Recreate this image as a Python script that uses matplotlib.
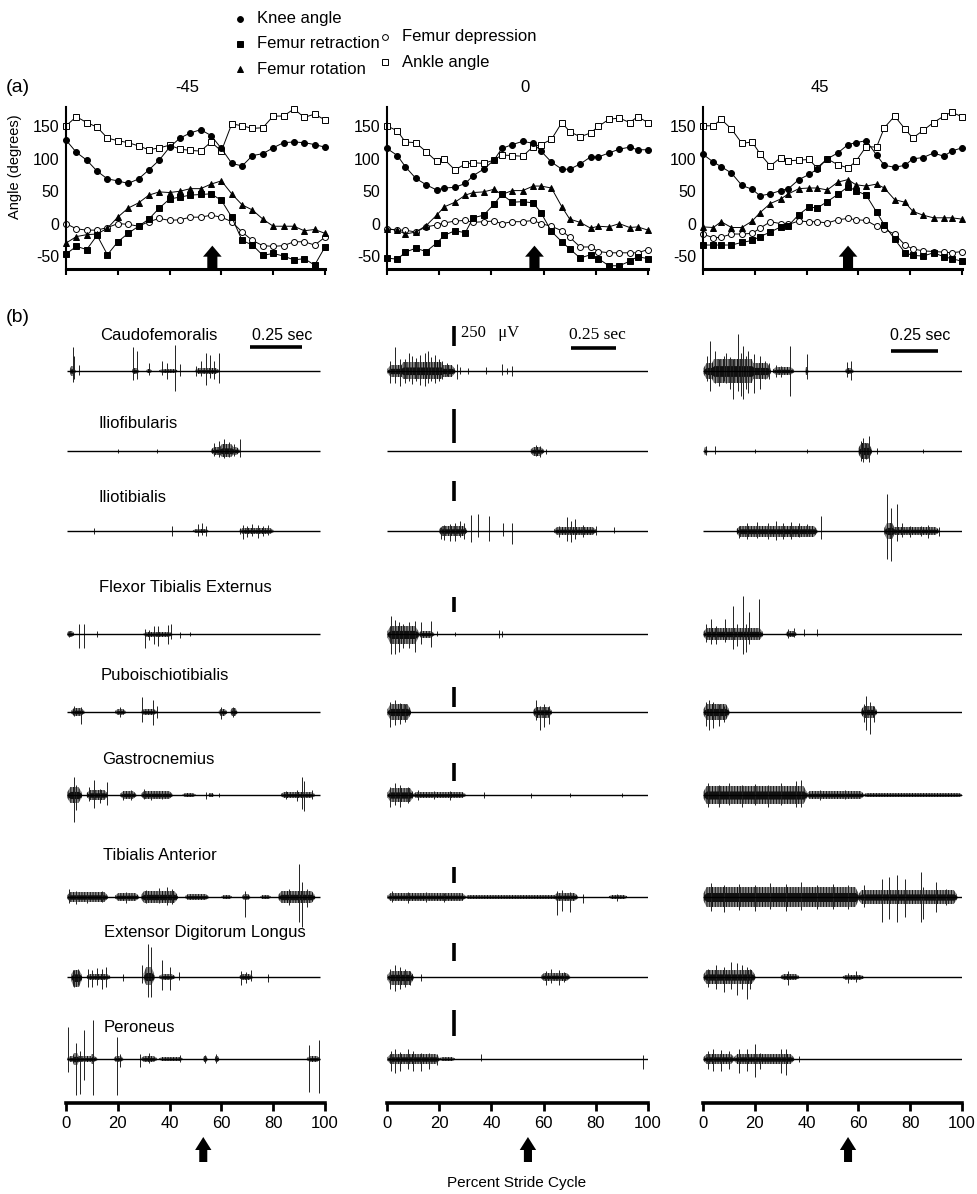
import matplotlib
matplotlib.use('Agg')
import matplotlib.pyplot as plt
from matplotlib.patches import FancyArrow

plt.rcParams['font.family'] = ['Liberation Sans', 'DejaVu Sans']
plt.rcParams['hatch.linewidth'] = 0.7

# ---------------- DATA: (a) joint angles ----------------
conditions = ['-45', '0', '45']
series_names = ['Knee angle', 'Femur retraction', 'Femur rotation', 'Femur depression', 'Ankle angle']

pct_m45 = [0, 4, 8, 12, 16, 20, 24, 28, 32, 36, 40, 44, 48, 52, 56, 60, 64, 68, 72, 76, 80, 84, 88, 92, 96, 100]
knee_m45 = [129, 110, 98, 81, 69, 66, 62, 69, 83, 98, 118, 132, 140, 145, 136, 116, 93, 89, 105, 108, 117, 125, 126, 125, 122, 118]
retr_m45 = [-47, -35, -40, -18, -48, -28, -15, -4, 7, 24, 38, 41, 44, 45, 46, 36, 10, -26, -33, -49, -46, -50, -56, -54, -64, -36]
rot_m45 = [-30, -20, -17, -16, -7, 10, 24, 32, 44, 49, 48, 50, 54, 54, 61, 66, 46, 29, 21, 7, -4, -4, -4, -11, -9, -15]
depr_m45 = [0, -8, -10, -10, -6, 0, -1, -4, 3, 8, 5, 6, 10, 10, 13, 10, 3, -13, -26, -34, -35, -34, -28, -28, -33, -21]
ankle_m45 = [151, 165, 156, 149, 132, 128, 125, 120, 114, 117, 121, 115, 113, 112, 126, 112, 154, 151, 147, 148, 166, 166, 177, 164, 169, 160]

pct_0 = [0, 4, 7, 11, 15, 19, 22, 26, 30, 33, 37, 41, 44, 48, 52, 56, 59, 63, 67, 70, 74, 78, 81, 85, 89, 93, 96, 100]
knee_0 = [116, 105, 88, 70, 60, 52, 55, 56, 62, 74, 84, 98, 116, 122, 127, 124, 112, 95, 84, 84, 92, 103, 103, 109, 115, 118, 114, 114]
retr_0 = [-53, -55, -44, -38, -43, -30, -18, -11, -14, 9, 13, 30, 45, 33, 34, 32, 17, -12, -28, -39, -53, -48, -54, -65, -65, -58, -51, -54]
rot_0 = [-8, -10, -16, -13, -3, 13, 26, 33, 44, 48, 49, 53, 45, 51, 51, 58, 58, 55, 26, 7, 2, -7, -4, -5, 0, -6, -5, -10]
depr_0 = [-8, -10, -10, -13, -5, -2, 1, 4, 5, 2, 3, 4, 0, 3, 3, 5, 0, -4, -11, -21, -36, -36, -43, -45, -45, -45, -45, -40]
ankle_0 = [151, 143, 126, 125, 111, 96, 99, 83, 92, 94, 93, 98, 106, 105, 104, 119, 122, 130, 156, 142, 134, 140, 150, 161, 163, 156, 165, 156]

pct_45 = [0, 4, 7, 11, 15, 19, 22, 26, 30, 33, 37, 41, 44, 48, 52, 56, 59, 63, 67, 70, 74, 78, 81, 85, 89, 93, 96, 100]
knee_45 = [107, 95, 88, 78, 59, 53, 43, 46, 51, 54, 68, 76, 84, 100, 109, 122, 125, 128, 106, 90, 87, 90, 100, 102, 109, 104, 112, 117]
retr_45 = [-33, -33, -33, -33, -29, -26, -20, -13, -5, -3, 14, 26, 24, 34, 45, 57, 51, 44, 18, -2, -24, -45, -49, -50, -45, -51, -54, -58]
rot_45 = [-5, -6, 3, -6, -6, 4, 17, 31, 38, 46, 54, 55, 55, 52, 64, 68, 60, 58, 61, 55, 37, 33, 19, 13, 9, 9, 9, 7]
depr_45 = [-16, -22, -21, -16, -16, -15, -7, 3, 0, -1, 4, 3, 3, 1, 6, 8, 6, 5, -4, -9, -16, -33, -39, -42, -43, -44, -45, -43]
ankle_45 = [151, 151, 161, 146, 124, 126, 108, 89, 102, 97, 98, 99, 86, 100, 91, 86, 96, 119, 118, 148, 166, 146, 132, 144, 156, 166, 172, 165]

# stance/swing transition (arrow) in percent stride
arrow_top = [56.5, 56.5, 56]
arrow_bottom = [53, 54, 56]

# ---------------- DATA: (b) EMG ----------------
muscles = ['Caudofemoralis', 'Iliofibularis', 'Iliotibialis', 'Flexor Tibialis Externus',
           'Puboischiotibialis', 'Gastrocnemius', 'Tibialis Anterior',
           'Extensor Digitorum Longus', 'Peroneus']

# bursts: (start %, end %, amplitude up, amplitude down); spikes: (%, up, down)  [display units]
bursts_m45 = {
    'Caudofemoralis': [(1.5, 3.5, 5, 5), (25.5, 28, 3, 3), (31, 33, 2, 2), (36, 43, 2, 2), (50, 59, 3, 3)],
    'Iliofibularis': [(56, 67, 4, 4), (59, 65, 7, 6)],
    'Iliotibialis': [(49, 55, 2, 2), (67, 80, 3, 3)],
    'Flexor Tibialis Externus': [(0.5, 3, 3, 3), (30, 41, 2, 3)],
    'Puboischiotibialis': [(2, 7, 4, 4), (19, 23, 3, 3), (29, 35, 3, 3), (59, 62, 3, 4), (63.5, 66, 4, 4)],
    'Gastrocnemius': [(0.5, 6, 8, 8), (8, 16, 5, 5), (21, 27, 4, 4), (29, 41, 4, 4), (45, 50, 2, 2), (55, 57, 2, 2), (83, 96, 3, 3)],
    'Tibialis Anterior': [(0.5, 16, 5, 5), (19, 28, 4, 4), (29, 43, 6, 6), (46, 55, 3, 3), (60, 64, 2, 2), (68, 71, 3, 3), (75, 79, 2, 2), (82, 96, 6, 6)],
    'Extensor Digitorum Longus': [(2, 6, 7, 10), (8, 17, 3, 3), (30, 34, 10, 8), (36, 42, 3, 3), (67, 72, 3, 3)],
    'Peroneus': [(0.5, 12, 3, 3), (2.5, 5, 6, 6), (9.5, 11, 5, 5), (18.5, 22, 3, 3), (29, 35, 3, 3), (36, 45, 2, 2), (53, 54.5, 3, 3), (57.5, 59, 3, 3), (93, 98, 3, 3)],
}
spikes_m45 = {
    'Caudofemoralis': [(2.6, 24, 11), (3.2, 15, 8), (5, 6, 4), (26, 24, 9), (27.5, 20, 8), (32, 8, 4), (37, 10, 4), (39, 8, 8), (42, 26, 20), (44, 7, 5), (50, 5, 5), (52, 10, 5), (54, 18, 14), (55.5, 16, 7), (57, 10, 8), (59, 18, 12)],
    'Iliofibularis': [(57, 8, 5), (59, 10, 6), (61, 12, 7), (63, 9, 6), (65, 7, 5), (67, 12, 6), (20, 2, 2), (35, 2, 2)],
    'Iliotibialis': [(11, 3, 3), (41, 5, 5), (51, 7, 5), (52.5, 8, 4), (54, 5, 5), (67, 3, 3), (68.5, 6, 8), (70, 5, 6), (72, 7, 5), (74, 6, 7), (76, 5, 5), (78, 6, 4)],
    'Flexor Tibialis Externus': [(1, 3, 3), (5, 10, 14), (7, 10, 14), (12, 3, 3), (30.5, 5, 14), (32, 4, 6), (34, 8, 10), (35.5, 8, 12), (39.5, 9, 10), (40.5, 10, 5), (44, 2, 4), (48, 2, 2)],
    'Puboischiotibialis': [(3, 6, 4), (5.8, 5, 12), (21, 5, 5), (29.5, 15, 10), (33.5, 12, 13), (35, 6, 6), (60, 5, 7), (64.5, 5, 5)],
    'Gastrocnemius': [(3, 18, 27), (4, 10, 15), (9, 8, 6), (11, 15, 13), (13, 6, 8), (16, 13, 10), (22, 4, 5), (25, 5, 5), (30, 6, 4), (33, 4, 5), (37, 3, 4), (54, 3, 4), (59, 2, 2), (85, 4, 4), (89, 5, 6), (91, 18, 14), (92, 14, 16), (95, 5, 4)],
    'Tibialis Anterior': [(1, 8, 6), (4, 6, 7), (8, 5, 6), (14, 6, 5), (23, 5, 6), (31, 7, 6), (36, 9, 6), (39, 10, 8), (41, 8, 7), (69, 6, 20), (86, 8, 8), (90, 33, 25), (91, 15, 30), (93, 8, 10)],
    'Extensor Digitorum Longus': [(3, 7, 10), (4.5, 8, 8), (8.5, 8, 10), (10, 7, 10), (12, 9, 8), (14, 8, 12), (15.5, 10, 10), (22, 3, 4), (29.5, 12, 6), (31.5, 33, 20), (33, 30, 20), (37, 17, 13), (40, 10, 13), (43.5, 5, 3), (67.5, 6, 8), (69.5, 5, 6), (71.5, 7, 4), (78, 3, 5)],
    'Peroneus': [(0.9, 32, 13), (4, 16, 36), (5.5, 8, 35), (7, 29, 21), (10.4, 39, 36), (19.6, 22, 36), (21, 5, 8), (28.5, 5, 8), (32, 6, 4), (44, 4, 3), (53.5, 4, 4), (58, 5, 4), (94, 14, 33), (97.8, 19, 34)],
}

bursts_0 = {
    'Caudofemoralis': [(0.2, 26, 6, 6), (5, 22, 9, 8)],
    'Iliofibularis': [(55, 60, 4, 5)],
    'Iliotibialis': [(20, 30.5, 5, 5), (64, 80, 4, 4)],
    'Flexor Tibialis Externus': [(0.2, 12, 8, 10), (12, 18, 3, 4)],
    'Puboischiotibialis': [(0.2, 9, 8, 8), (56, 63, 5, 6)],
    'Gastrocnemius': [(0.2, 10, 7, 7), (10, 30, 3, 3)],
    'Tibialis Anterior': [(0.2, 30, 4, 4), (30, 66, 2, 2), (64, 73, 4, 4), (85, 92, 2, 2)],
    'Extensor Digitorum Longus': [(0.2, 10, 6, 8), (59, 70, 4, 4)],
    'Peroneus': [(0.2, 20, 5, 5), (20, 26, 2, 2)],
}
spikes_0 = {
    'Caudofemoralis': [(1, 10, 12), (3, 24, 12), (5, 12, 15), (7, 12, 12), (8.5, 18, 10), (9.5, 15, 13), (11, 13, 10), (12.5, 16, 14), (14.5, 18, 15), (15.8, 20, 12), (17, 14, 10), (18.4, 16, 12), (20, 12, 10), (21, 10, 8), (23, 8, 5), (26.7, 7, 8), (28, 4, 3), (31, 3, 3), (38, 4, 3), (44, 7, 4), (46, 3, 3), (48, 5, 5)],
    'Iliofibularis': [(57, 6, 5), (58.5, 5, 6), (61, 2, 3)],
    'Iliotibialis': [(20.5, 4, 8), (22, 6, 9), (24, 7, 10), (26, 8, 10), (28, 10, 6), (29.5, 8, 8), (32, 16, 11), (35, 17, 6), (39, 15, 10), (44.6, 8, 5), (48, 8, 13), (66, 5, 6), (69, 14, 10), (70.5, 10, 11), (72, 12, 8), (75, 6, 6), (80, 5, 4), (87, 4, 2)],
    'Flexor Tibialis Externus': [(1.5, 18, 20), (3, 14, 20), (4.5, 12, 18), (6, 10, 14), (8.5, 12, 14), (10.7, 13, 18), (13, 12, 10), (17, 13, 13), (19, 3, 2), (26, 2, 2), (43, 4, 4), (44, 3, 3)],
    'Puboischiotibialis': [(1, 10, 15), (3, 12, 13), (5, 9, 12), (7, 8, 10), (57, 12, 8), (58.5, 6, 18), (60, 8, 15), (62, 6, 12)],
    'Gastrocnemius': [(1, 8, 12), (3, 12, 10), (5, 10, 12), (8, 8, 8), (12, 5, 5), (18, 4, 4), (24, 4, 5), (37, 3, 3), (55, 2, 3), (70, 2, 2), (90, 2, 2)],
    'Tibialis Anterior': [(2, 6, 5), (8, 5, 6), (15, 5, 5), (22, 4, 5), (65, 6, 18), (67, 7, 14), (70, 5, 15), (75, 3, 6), (88, 3, 4)],
    'Extensor Digitorum Longus': [(1, 8, 12), (3, 12, 14), (5, 10, 12), (7, 8, 10), (9, 6, 8), (13, 3, 4), (61, 6, 8), (63, 8, 6), (66, 7, 8), (68, 5, 5)],
    'Peroneus': [(1.5, 8, 12), (3, 10, 14), (5, 7, 12), (8, 10, 10), (10, 8, 12), (13, 6, 12), (16, 6, 10), (19, 5, 6), (36, 5, 2), (98, 4, 10)],
}

bursts_45 = {
    'Caudofemoralis': [(0.2, 26, 8, 8), (3, 20, 12, 12), (27, 35, 4, 4), (39.5, 40.5, 4, 4), (55, 58, 3, 3)],
    'Iliofibularis': [(0.5, 1.5, 4, 4), (60, 65, 8, 8)],
    'Iliotibialis': [(13, 44, 5, 6), (70, 91, 4, 4), (70, 74, 8, 8)],
    'Flexor Tibialis Externus': [(0.2, 23, 6, 6), (32, 36, 3, 3)],
    'Puboischiotibialis': [(0.2, 10, 8, 8), (61, 67, 6, 6)],
    'Gastrocnemius': [(0.2, 40, 9, 9), (40, 62, 4, 4), (62, 100, 2, 2)],
    'Tibialis Anterior': [(0.2, 60, 10, 10), (60, 98, 7, 7)],
    'Extensor Digitorum Longus': [(0.2, 20, 7, 7), (30, 37, 3, 3), (54, 62, 2, 3)],
    'Peroneus': [(0.2, 12, 5, 5), (12, 35, 5, 5)],
}
spikes_45 = {
    'Caudofemoralis': [(1.5, 15, 10), (2.7, 30, 20), (4.5, 20, 12), (6, 12, 15), (8, 15, 10), (9, 18, 12), (10.5, 14, 18), (11.7, 12, 28), (13.6, 37, 20), (14.5, 18, 25), (15.5, 25, 28), (16.5, 15, 18), (17.4, 20, 22), (19.5, 17, 22), (22, 15, 18), (24, 10, 8), (25.5, 8, 8), (28, 6, 6), (30, 5, 6), (33.5, 25, 25), (40, 17, 8), (55.5, 9, 6), (57, 10, 9)],
    'Iliofibularis': [(1, 5, 4), (4.6, 5, 3), (61, 10, 10), (61.7, 13, 11), (63, 8, 8), (64, 15, 11), (67, 3, 3), (20, 2, 2), (40, 2, 2), (85, 2, 2)],
    'Iliotibialis': [(14, 5, 7), (17, 8, 8), (21, 9, 7), (25, 8, 8), (28, 10, 9), (31, 8, 8), (34, 9, 8), (37, 8, 6), (40, 7, 5), (45.6, 15, 8), (71, 37, 28), (72.5, 23, 30), (75, 27, 10), (77, 8, 6), (80, 5, 6), (84, 5, 5), (87, 6, 7), (91, 4, 5)],
    'Flexor Tibialis Externus': [(1, 10, 8), (3, 15, 10), (5, 8, 10), (8.5, 15, 8), (11.4, 28, 15), (13, 10, 12), (15.5, 38, 20), (16.5, 10, 18), (17.8, 22, 10), (21.7, 35, 5), (33, 5, 4), (35, 6, 3), (39, 5, 2), (44, 5, 2)],
    'Puboischiotibialis': [(1, 10, 14), (2.5, 12, 18), (4, 10, 16), (6, 8, 14), (8, 6, 10), (62, 8, 10), (63, 16, 18), (64.5, 10, 22), (66, 6, 10)],
    'Gastrocnemius': [(2, 12, 12), (6, 10, 12), (10, 12, 10), (15, 10, 12), (20, 11, 10), (25, 10, 12), (30, 12, 10), (36, 14, 12), (38, 15, 12), (45, 5, 5), (55, 5, 4)],
    'Tibialis Anterior': [(3, 14, 14), (8, 12, 15), (14, 13, 13), (20, 12, 14), (26, 14, 12), (32, 13, 14), (38, 15, 13), (44, 12, 12), (50, 13, 12), (56, 12, 12), (62, 12, 10), (69, 18, 25), (72, 20, 22), (75, 22, 25), (78, 18, 20), (84, 25, 25), (85, 10, 22), (90, 15, 15), (94, 8, 8)],
    'Extensor Digitorum Longus': [(2, 8, 10), (5, 12, 12), (8, 10, 15), (11, 15, 12), (13, 14, 18), (15, 12, 12), (16.8, 10, 22), (18, 8, 12), (33, 6, 8), (56, 4, 6), (59, 6, 5)],
    'Peroneus': [(2, 8, 10), (4, 10, 12), (7, 9, 12), (10, 8, 10), (14, 10, 14), (17, 10, 12), (20, 15, 18), (22, 6, 10), (30, 10, 14), (32, 10, 16), (37, 3, 3)],
}

x_ticks = [0, 20, 40, 60, 80, 100]
y_ticks = [-50, 0, 50, 100, 150]

# ---------------- LAYOUT ----------------
W, H = 977, 1194
fig = plt.figure(figsize=(W / 100, H / 100), dpi=100)


def frac(x0, x1, y0, y1):
    return [x0 / W, 1 - y1 / H, (x1 - x0) / W, (y1 - y0) / H]


col_x = [(66, 325), (387, 648), (703, 962)]

top_data = [
    (pct_m45, knee_m45, retr_m45, rot_m45, depr_m45, ankle_m45),
    (pct_0, knee_0, retr_0, rot_0, depr_0, ankle_0),
    (pct_45, knee_45, retr_45, rot_45, depr_45, ankle_45),
]

mk = dict(color='k', lw=0.7, markeredgecolor='k', markeredgewidth=0.7, clip_on=False)
for c, (x0, x1) in enumerate(col_x):
    ax = fig.add_axes(frac(x0, x1, 107, 269))
    pct, knee, retr, rot, depr, ankle = top_data[c]
    ax.plot(pct, ankle, marker='s', markersize=4.0, markerfacecolor='white', **mk)
    ax.plot(pct, depr, marker='o', markersize=4.3, markerfacecolor='white', **mk)
    ax.plot(pct, rot, marker='^', markersize=4.6, markerfacecolor='k', **mk)
    ax.plot(pct, retr, marker='s', markersize=3.9, markerfacecolor='k', **mk)
    ax.plot(pct, knee, marker='o', markersize=4.3, markerfacecolor='k', **mk)
    ax.set_xlim(0, 100)
    ax.set_ylim(-70, 180)
    ax.set_xticks(x_ticks)
    ax.set_xticklabels([])
    ax.set_yticks(y_ticks)
    ax.set_yticklabels([str(v) for v in y_ticks], fontsize=11.5)
    ax.tick_params(axis='x', direction='out', length=4, width=1.5)
    ax.tick_params(axis='y', length=0, pad=5)
    for s in ['top', 'right']:
        ax.spines[s].set_visible(False)
    ax.spines['bottom'].set_linewidth(2.2)
    ax.spines['left'].set_linewidth(1.5)
    ax.patch.set_alpha(0)
    ax.add_patch(FancyArrow(arrow_top[c], -70, 0, 36, width=3.9, head_width=7.2,
                            head_length=17, length_includes_head=True,
                            color='k', lw=0, clip_on=False, zorder=5))

# EMG columns (y in display units, baseline positions are layout)
baselines = [371, 451, 531, 634, 712, 795, 897, 977, 1059]
trace_span = [(0.5, 98), (0, 100), (0, 100)]
emg = [(bursts_m45, spikes_m45), (bursts_0, spikes_0), (bursts_45, spikes_45)]
axis_y = 1103

emg_axes = []
for c, (x0, x1) in enumerate(col_x):
    ax = fig.add_axes(frac(x0, x1, 290, 1170))
    ax.set_xlim(0, 100)
    ax.set_ylim(1170, 290)
    bursts, spikes = emg[c]
    s0, s1 = trace_span[c]
    for i, m in enumerate(muscles):
        b = baselines[i]
        ax.plot([s0, s1], [b, b], color='k', lw=1.0, solid_capstyle='butt', zorder=3)
        for (s, e, u, d) in bursts[m]:
            t = min(1.2, (e - s) / 4)
            xs = [s, s + t, e - t, e]
            ax.fill_between(xs, [b - 0.35 * u, b - u, b - u, b - 0.35 * u],
                            [b + 0.35 * d, b + d, b + d, b + 0.35 * d],
                            facecolor='#8a8a8a', edgecolor='#111111', hatch='||||||',
                            lw=0, zorder=2)
            ax.fill_between(xs, [b - 0.2 * u, b - 0.45 * u, b - 0.45 * u, b - 0.2 * u],
                            [b + 0.2 * d, b + 0.45 * d, b + 0.45 * d, b + 0.2 * d],
                            color='#111111', lw=0, zorder=2.5)
        xs = [p[0] for p in spikes[m]]
        ax.vlines(xs, [b - p[1] for p in spikes[m]], [b + p[2] for p in spikes[m]],
                  color='#222222', lw=0.7, zorder=2.7)
    for s in ['top', 'right', 'left']:
        ax.spines[s].set_visible(False)
    ax.spines['bottom'].set_position(('data', axis_y))
    ax.spines['bottom'].set_linewidth(2.6)
    ax.set_yticks([])
    ax.set_xticks(x_ticks)
    ax.set_xticklabels([str(v) for v in x_ticks], fontsize=12)
    ax.tick_params(axis='x', direction='out', length=6, width=2, pad=3)
    ax.patch.set_alpha(0)
    ax.add_patch(FancyArrow(arrow_bottom[c], 1162, 0, -25, width=3.1, head_width=6.3,
                            head_length=13, length_includes_head=True,
                            color='k', lw=0, clip_on=False))
    emg_axes.append(ax)

# vertical 250 uV calibration bars in middle column: (top, bottom) display units
cal_bars = [(326, 346), (409, 443), (481, 501), (597, 612), (687, 707),
            (763, 781), (867, 883), (943, 961), (1010, 1036)]
for (t, bt) in cal_bars:
    emg_axes[1].plot([25.7, 25.7], [t, bt], color='k', lw=2.6, solid_capstyle='butt')

# ---------------- overlay for annotations (pixel coords) ----------------
ov = fig.add_axes([0, 0, 1, 1])
ov.set_xlim(0, W)
ov.set_ylim(H, 0)
ov.axis('off')
ov.patch.set_alpha(0)

# legend
leg_items = [('o', 'k', 240, 19, series_names[0]),
             ('s', 'k', 240, 44, series_names[1]),
             ('^', 'k', 240, 69, series_names[2]),
             ('o', 'white', 385, 37, series_names[3]),
             ('s', 'white', 385, 62, series_names[4])]
for (m, fc, x, y, lab) in leg_items:
    ov.plot([x], [y], marker=m, markersize=4.2, markerfacecolor=fc,
            markeredgecolor='k', markeredgewidth=0.7, linestyle='none')
    ov.text(x + 17, y, lab, fontsize=12, va='center', ha='left')

ov.text(6, 87, '(a)', fontsize=14, va='center', ha='left')
for x, t in zip([187, 525, 820], conditions):
    ov.text(x, 87, t, fontsize=12, va='center', ha='center')
ov.text(15, 167, 'Angle (degrees)', fontsize=10.5, rotation=90, va='center', ha='center')
ov.text(6, 318, '(b)', fontsize=14, va='center', ha='left')

label_x = [100, 98, 98, 99, 101, 102, 103, 104, 104]
label_y = [335, 424, 497, 587, 675, 760, 855, 933, 1027]
for lx, ly, m in zip(label_x, label_y, muscles):
    ov.text(lx, ly, m, fontsize=12, va='center', ha='left')

# time scale bars
ov.plot([250, 302], [347, 347], color='k', lw=2.6, solid_capstyle='butt')
ov.text(282, 335, '0.25 sec', fontsize=11.5, va='center', ha='center')
ov.plot([571, 616], [348, 348], color='k', lw=2.6, solid_capstyle='butt')
ov.text(597, 335, '0.25 sec', fontsize=12.5, va='center', ha='center',
        family=['Liberation Serif', 'DejaVu Serif'])
ov.text(461, 333, '250   \u03bcV', fontsize=12, va='center', ha='left',
        family=['Liberation Serif', 'DejaVu Serif'])
ov.plot([891, 938], [351, 351], color='k', lw=2.6, solid_capstyle='butt')
ov.text(920, 335, '0.25 sec', fontsize=11.5, va='center', ha='center')

ov.text(517, 1183, 'Percent Stride Cycle', fontsize=11, va='center', ha='center')

fig.savefig('out.png', dpi=100)
